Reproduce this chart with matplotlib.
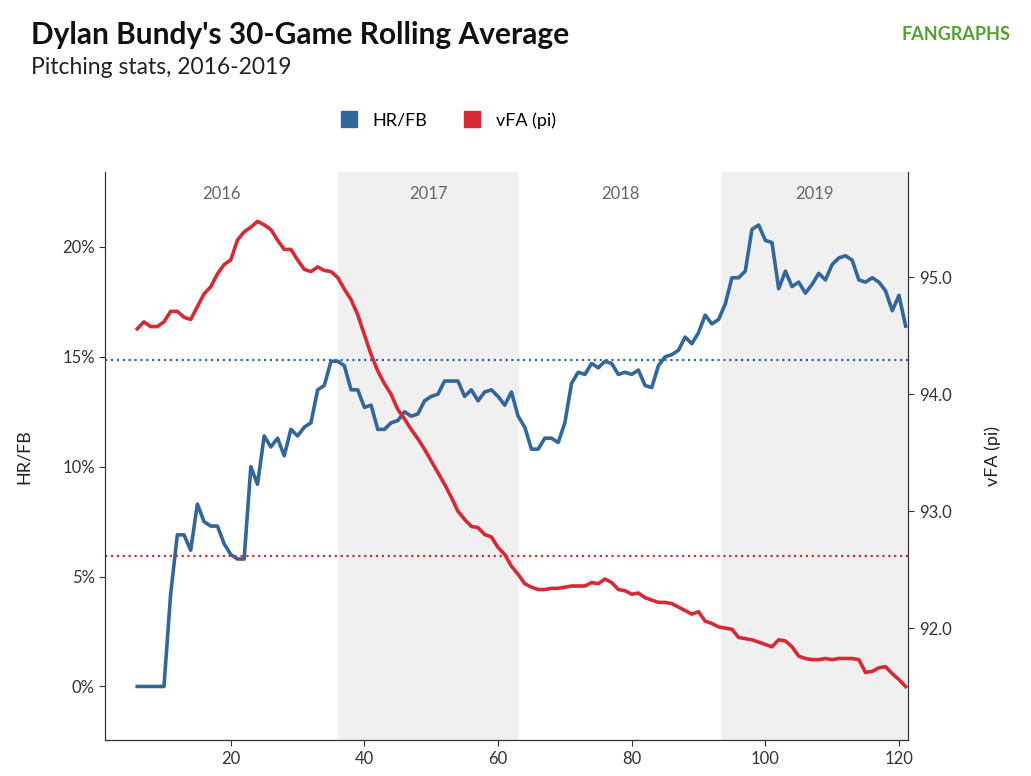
import numpy as np
import matplotlib.pyplot as plt
from matplotlib.lines import Line2D

plt.rcParams['font.family'] = ['Lato', 'DejaVu Sans']

games = list(range(6, 122))
hr_fb = [0, 0, 0, 0, 0, 4.2, 6.9, 6.9, 6.2, 8.3, 7.5, 7.3, 7.3, 6.5, 6.0, 5.8, 5.8,
         10.0, 9.2, 11.4, 10.9, 11.3, 10.5, 11.7, 11.4, 11.8, 12.0, 13.5, 13.7, 14.8,
         14.8, 14.6, 13.5, 13.5, 12.7, 12.8, 11.7, 11.7, 12.0, 12.1, 12.5, 12.3, 12.4,
         13.0, 13.2, 13.3, 13.9, 13.9, 13.9, 13.2, 13.5, 13.0, 13.4, 13.5, 13.2, 12.8,
         13.4, 12.3, 11.8, 10.8, 10.8, 11.3, 11.3, 11.1, 12.0, 13.8, 14.3, 14.2, 14.7,
         14.5, 14.8, 14.7, 14.2, 14.3, 14.2, 14.4, 13.7, 13.6, 14.6, 15.0, 15.1, 15.3,
         15.9, 15.6, 16.1, 16.9, 16.5, 16.7, 17.4, 18.6, 18.6, 18.9, 20.8, 21.0, 20.3,
         20.2, 18.1, 18.9, 18.2, 18.4, 17.9, 18.3, 18.8, 18.5, 19.2, 19.5, 19.6, 19.4,
         18.5, 18.4, 18.6, 18.4, 18.0, 17.1, 17.8, 16.4]
vfa = [94.56, 94.62, 94.58, 94.58, 94.62, 94.71, 94.71, 94.66, 94.64, 94.75, 94.86,
       94.92, 95.03, 95.11, 95.15, 95.32, 95.39, 95.43, 95.48, 95.45, 95.41, 95.32,
       95.24, 95.24, 95.15, 95.07, 95.05, 95.09, 95.06, 95.05, 95.0, 94.9, 94.81,
       94.68, 94.51, 94.34, 94.2, 94.09, 94.0, 93.87, 93.79, 93.70, 93.62, 93.53,
       93.43, 93.33, 93.23, 93.12, 93.0, 92.93, 92.87, 92.86, 92.80, 92.78, 92.69,
       92.63, 92.53, 92.46, 92.38, 92.35, 92.33, 92.33, 92.34, 92.34, 92.35, 92.36,
       92.36, 92.36, 92.39, 92.38, 92.42, 92.39, 92.33, 92.32, 92.29, 92.30, 92.26,
       92.24, 92.22, 92.22, 92.21, 92.18, 92.15, 92.12, 92.14, 92.06, 92.04, 92.01,
       92.0, 91.99, 91.92, 91.91, 91.9, 91.88, 91.86, 91.84, 91.9, 91.89, 91.84,
       91.76, 91.74, 91.73, 91.73, 91.74, 91.73, 91.74, 91.74, 91.74, 91.73, 91.62,
       91.63, 91.66, 91.67, 91.61, 91.56, 91.50]
hr_fb_avg = 14.85
vfa_avg = 92.62
seasons = ['2016', '2017', '2018', '2019']
season_bounds = [(1.2, 36.1), (36.1, 63.2), (63.2, 93.3), (93.3, 121.4)]

blue = '#336699'
red = '#d62a36'

fig = plt.figure(figsize=(10.31, 7.76), dpi=100)
ax = fig.add_axes([0.102, 0.046, 0.779, 0.732])
ax2 = ax.twinx()

for i, (s, (a, b)) in enumerate(zip(seasons, season_bounds)):
    if i % 2 == 1:
        ax.axvspan(a, b, color='#f0f0f0', zorder=0, lw=0)
    ax.text((a + b) / 2, 22.4, s, ha='center', va='center', fontsize=12, color='#666666')

ax.axhline(hr_fb_avg, color=blue, ls=':', lw=1.6)
ax2.axhline(vfa_avg, color=red, ls=':', lw=1.6)
ax.plot(games, hr_fb, color=blue, lw=2.6, zorder=3)
ax2.plot(games, vfa, color=red, lw=2.6, zorder=3)

ax.set_xlim(1.2, 121.4)
ax.set_ylim(-2.45, 23.4)
ax2.set_ylim(91.04, 95.9)
ax.set_xticks([20, 40, 60, 80, 100, 120])
ax.set_yticks([0, 5, 10, 15, 20])
ax.set_yticklabels(['0%', '5%', '10%', '15%', '20%'])
ax2.set_yticks([92, 93, 94, 95])
ax2.set_yticklabels(['92.0', '93.0', '94.0', '95.0'])
for a in (ax, ax2):
    a.spines['top'].set_visible(False)
    for s in ('left', 'right', 'bottom'):
        a.spines[s].set_color('#333333')
    a.tick_params(labelsize=12, colors='#333333', length=4)
ax.set_ylabel('HR/FB', fontsize=13, color='#222222', labelpad=22)
ax2.set_ylabel('vFA (pi)', fontsize=13, color='#222222', labelpad=24)

fig.text(0.03, 0.955, "Dylan Bundy's 30-Game Rolling Average", fontsize=21.5, fontweight='bold', color='#111111', va='center')
fig.text(0.03, 0.913, 'Pitching stats, 2016-2019', fontsize=16.5, color='#222222', va='center')
fig.text(0.98, 0.955, 'FANGRAPHS', fontsize=13, fontweight='bold', color='#53a032', ha='right', va='center')

handles = [Line2D([], [], marker='s', ls='', color=blue, markersize=11),
           Line2D([], [], marker='s', ls='', color=red, markersize=11)]
fig.legend(handles, ['HR/FB', 'vFA (pi)'], loc='center', bbox_to_anchor=(0.43, 0.845),
           ncol=2, frameon=False, fontsize=13, handletextpad=0.3, columnspacing=1.5)

fig.savefig('out.png', dpi=100)
